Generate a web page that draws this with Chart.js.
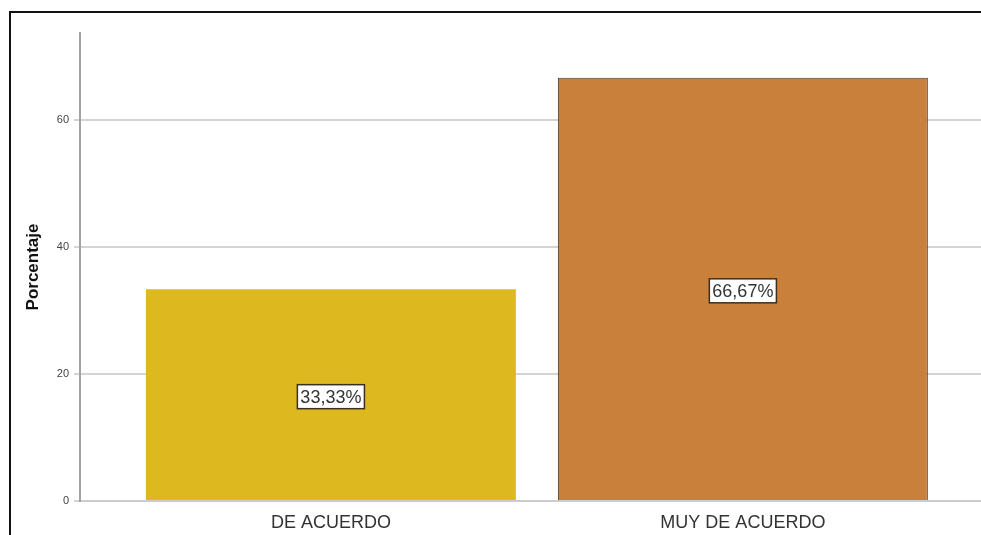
<!DOCTYPE html>
<html>
<head>
<meta charset="utf-8">
<script src="https://cdn.jsdelivr.net/npm/chart.js@4"></script>
<style>
  html, body { margin: 0; padding: 0; background: #fff; }
  .wrap { position: relative; width: 981px; height: 535px; }
  .frame { position: absolute; left: 9px; top: 11px; right: 0; bottom: 0;
           border-top: 2px solid #111; border-left: 2px solid #111; pointer-events: none; }
  canvas { position: absolute; left: 0; top: 0; }
</style>
</head>
<body>
<div class="wrap">
  <canvas id="chart" width="981" height="535"></canvas>
  <div class="frame"></div>
</div>
<script>
// data
const categories = ['DE ACUERDO', 'MUY DE ACUERDO'];
const percentages = [33.33, 66.67];
const barColors = ['#ddb91f', '#c8803a'];
const yTicks = [0, 20, 40, 60];

const ctx = document.querySelector('#chart');

const fmtPct = (v) => v.toFixed(2).replace('.', ',') + '%';

// white boxed labels in the middle of each bar
const boxLabels = {
  id: 'boxLabels',
  afterDatasetsDraw(chart) {
    const c = chart.ctx;
    const meta = chart.getDatasetMeta(0);
    c.save();
    c.font = '18px "Liberation Sans", Arial, sans-serif';
    c.textAlign = 'center';
    c.textBaseline = 'middle';
    meta.data.forEach((bar, i) => {
      const txt = fmtPct(percentages[i]);
      const cy = (bar.y + bar.base) / 2 + 2;
      const w = c.measureText(txt).width + 6;
      const h = 24;
      c.fillStyle = '#fff';
      c.fillRect(bar.x - w / 2, cy - h / 2, w, h);
      c.strokeStyle = '#3a3020';
      c.lineWidth = 1.5;
      c.strokeRect(bar.x - w / 2, cy - h / 2, w, h);
      c.fillStyle = '#333';
      c.fillText(txt, bar.x, cy + 1);
    });
    c.restore();
  }
};

new Chart(ctx, {
  type: 'bar',
  data: {
    datasets: [{
      data: categories.map((cat, i) => ({ x: i, y: percentages[i] })),
      backgroundColor: barColors,
      borderColor: ['#ddb91f', '#4a3a2a'],
      borderWidth: [0, 1],
      barPercentage: 0.898,
      categoryPercentage: 1
    }]
  },
  options: {
    responsive: false,
    animation: false,
    layout: { padding: { top: 33, left: 0, right: 0, bottom: 0 } },
    plugins: { legend: { display: false }, tooltip: { enabled: false } },
    scales: {
      x: {
        type: 'linear',
        offset: false,
        min: -0.609,
        max: 1.578,
        afterBuildTicks: (scale) => {
          scale.ticks = categories.map((c, i) => ({ value: i }));
        },
        afterFit: (scale) => { scale.height = 34; },
        grid: { display: false, offset: false },
        border: { display: true, color: '#cccccc', width: 2 },
        ticks: {
          callback: (v) => categories[v],
          autoSkip: false,
          maxRotation: 0,
          padding: 3,
          color: '#333',
          font: { family: '"Liberation Sans", Arial, sans-serif', size: 18 }
        }
      },
      y: {
        min: 0,
        max: 73.7,
        afterBuildTicks: (scale) => {
          scale.ticks = yTicks.map(v => ({ value: v }));
        },
        afterFit: (scale) => { scale.width = 80; },
        grid: { color: '#d4d4d4', lineWidth: 2, tickLength: 6 },
        border: { display: true, color: '#a3a3a3', width: 2 },
        ticks: {
          padding: 5,
          color: '#444',
          font: { family: '"Liberation Sans", Arial, sans-serif', size: 11 }
        },
        title: {
          display: true,
          text: 'Porcentaje',
          color: '#111',
          padding: { top: 23, bottom: 0 },
          font: { family: '"Liberation Sans", Arial, sans-serif', size: 17, weight: 'bold' }
        }
      }
    }
  },
  plugins: [boxLabels]
});
</script>
</body>
</html>
